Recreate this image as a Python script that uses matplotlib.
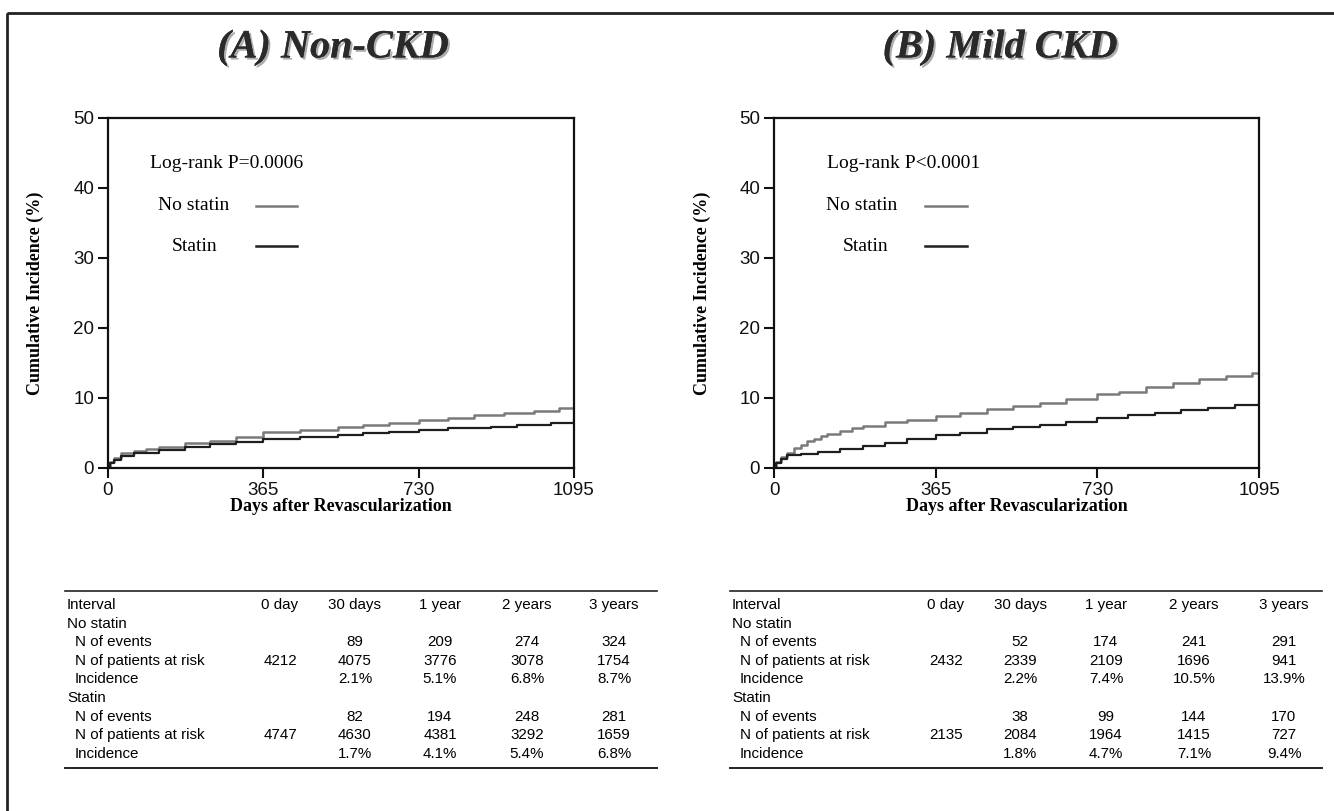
import matplotlib.pyplot as plt
import matplotlib.patheffects as pe
from matplotlib.lines import Line2D
from matplotlib.patches import Rectangle

plt.rcParams['font.family'] = ['Liberation Sans', 'DejaVu Sans']
SERIF = ['Liberation Serif', 'DejaVu Serif']

# ---- curves (days, cumulative incidence %) ----
a_no_days = [0, 5, 15, 30, 60, 90, 120, 180, 240, 300, 365, 450, 540, 600, 660, 730, 800, 860, 930, 1000, 1060, 1095]
a_no_vals = [0, 0.8, 1.4, 2.1, 2.4, 2.7, 3.0, 3.5, 3.9, 4.4, 5.1, 5.4, 5.8, 6.1, 6.4, 6.8, 7.2, 7.6, 7.9, 8.2, 8.5, 8.7]
a_st_days = [0, 5, 15, 30, 60, 120, 180, 240, 300, 365, 450, 540, 600, 660, 730, 800, 900, 960, 1040, 1095]
a_st_vals = [0, 0.7, 1.2, 1.7, 2.1, 2.6, 3.0, 3.4, 3.7, 4.1, 4.4, 4.7, 5.0, 5.2, 5.4, 5.7, 5.9, 6.2, 6.4, 6.8]

b_no_days = [0, 5, 15, 30, 45, 60, 75, 90, 105, 120, 150, 175, 200, 250, 300, 365, 420, 480, 540, 600, 660, 730, 780, 840, 900, 960, 1020, 1080, 1095]
b_no_vals = [0, 0.8, 1.5, 2.2, 2.8, 3.3, 3.8, 4.2, 4.5, 4.8, 5.3, 5.7, 6.0, 6.5, 6.9, 7.4, 7.9, 8.4, 8.8, 9.3, 9.8, 10.5, 10.9, 11.6, 12.2, 12.7, 13.1, 13.5, 13.9]
b_st_days = [0, 5, 15, 30, 60, 100, 150, 200, 250, 300, 365, 420, 480, 540, 600, 660, 730, 800, 860, 920, 980, 1040, 1095]
b_st_vals = [0, 0.7, 1.3, 1.8, 2.0, 2.3, 2.7, 3.2, 3.6, 4.1, 4.7, 5.0, 5.5, 5.8, 6.2, 6.6, 7.1, 7.5, 7.9, 8.3, 8.6, 9.0, 9.4]

# ---- tables ----
tab_header = ['Interval', '0 day', '30 days', '1 year', '2 years', '3 years']
a_no_events = ['', '89', '209', '274', '324']
a_no_risk = ['4212', '4075', '3776', '3078', '1754']
a_no_inc = ['', '2.1%', '5.1%', '6.8%', '8.7%']
a_st_events = ['', '82', '194', '248', '281']
a_st_risk = ['4747', '4630', '4381', '3292', '1659']
a_st_inc = ['', '1.7%', '4.1%', '5.4%', '6.8%']

b_no_events = ['', '52', '174', '241', '291']
b_no_risk = ['2432', '2339', '2109', '1696', '941']
b_no_inc = ['', '2.2%', '7.4%', '10.5%', '13.9%']
b_st_events = ['', '38', '99', '144', '170']
b_st_risk = ['2135', '2084', '1964', '1415', '727']
b_st_inc = ['', '1.8%', '4.7%', '7.1%', '9.4%']

W, H = 1334, 811
fig = plt.figure(figsize=(W / 100, H / 100), dpi=100)

# pixel-coordinate overlay for titles, tables and frame
pax = fig.add_axes([0, 0, 1, 1])
pax.set_xlim(0, W)
pax.set_ylim(H, 0)
pax.axis('off')
pax.add_patch(Rectangle((7, 13), W + 20, H + 20, fill=False, lw=2, color='#222222'))

NO_COL = '#7a7a7a'
ST_COL = '#1e1e1e'


def km_panel(left_px, right_px, ylab_px, no_d, no_v, st_d, st_v, ptext, leg_x):
    ax = fig.add_axes([left_px / W, 1 - 468 / H, (right_px - left_px) / W, 350 / H])
    ax.step(no_d, no_v, where='post', color=NO_COL, lw=1.8)
    ax.step(st_d, st_v, where='post', color=ST_COL, lw=1.6)
    ax.set_xlim(0, 1095)
    ax.set_ylim(0, 50)
    ax.set_xticks([0, 365, 730, 1095])
    ax.set_yticks([0, 10, 20, 30, 40, 50])
    ax.tick_params(direction='out', length=7, width=1.5, labelsize=13.5, pad=3, colors='#111111')
    for s in ax.spines.values():
        s.set_linewidth(1.6)
        s.set_color('#111111')
    ax.set_ylabel('Cumulative Incidence (%)', family=SERIF, fontweight='bold', fontsize=13)
    ax.set_xlabel('Days after Revascularization', family=SERIF, fontweight='bold', fontsize=13)
    wpx = right_px - left_px
    ax.yaxis.set_label_coords((ylab_px - left_px) / wpx, 0.5)
    ax.xaxis.set_label_coords(0.5, -0.085)

    # legend block
    fs = 14
    ax.text(leg_x[0], 0.871, ptext, transform=ax.transAxes, family=SERIF, fontsize=fs, va='center')
    ax.text(leg_x[1], 0.749, 'No statin', transform=ax.transAxes, family=SERIF, fontsize=fs, va='center')
    ax.text(leg_x[2], 0.634, 'Statin', transform=ax.transAxes, family=SERIF, fontsize=fs, va='center')
    ax.add_line(Line2D([leg_x[3], leg_x[4]], [0.749, 0.749], transform=ax.transAxes, color=NO_COL, lw=1.8))
    ax.add_line(Line2D([leg_x[3], leg_x[4]], [0.634, 0.634], transform=ax.transAxes, color=ST_COL, lw=1.8))
    return ax


km_panel(108, 574, 44, a_no_days, a_no_vals, a_st_days, a_st_vals, 'Log-rank P=0.0006',
         [0.09, 0.107, 0.137, 0.318, 0.406])
km_panel(774, 1259, 711, b_no_days, b_no_vals, b_st_days, b_st_vals, 'Log-rank P<0.0001',
         [0.109, 0.107, 0.142, 0.311, 0.398])

title_fx = [pe.withSimplePatchShadow(offset=(1.5, -1.5), shadow_rgbFace='#999999', alpha=0.8), pe.Normal()]
pax.text(333, 48, '(A) Non-CKD', family=SERIF, fontsize=29, fontweight='bold', style='italic',
         ha='center', va='center', color='#2a2a2a', path_effects=title_fx)
pax.text(1000, 48, '(B) Mild CKD', family=SERIF, fontsize=29, fontweight='bold', style='italic',
         ha='center', va='center', color='#2a2a2a', path_effects=title_fx)


def draw_table(x0, x1, col_x, no_ev, no_risk, no_inc, st_ev, st_risk, st_inc):
    y0 = 605
    dy = 18.6
    fs = 10.9
    pax.plot([x0, x1], [591, 591], color='#222222', lw=1.2)
    pax.plot([x0, x1], [768, 768], color='#222222', lw=1.4)
    pax.text(x0 + 2, y0, tab_header[0], fontsize=fs, va='center')
    for cx, h in zip(col_x, tab_header[1:]):
        pax.text(cx, y0, h, fontsize=fs, va='center', ha='center')
    groups = [('No statin', no_ev, no_risk, no_inc), ('Statin', st_ev, st_risk, st_inc)]
    row = 1
    for name, ev, risk, inc in groups:
        pax.text(x0 + 2, y0 + row * dy, name, fontsize=fs, va='center')
        row += 1
        for lab, vals in [('N of events', ev), ('N of patients at risk', risk), ('Incidence', inc)]:
            pax.text(x0 + 10, y0 + row * dy, lab, fontsize=fs, va='center')
            for cx, v in zip(col_x, vals):
                pax.text(cx, y0 + row * dy, v, fontsize=fs, va='center', ha='center')
            row += 1


draw_table(65, 657, [280, 355, 440, 527, 614],
           a_no_events, a_no_risk, a_no_inc, a_st_events, a_st_risk, a_st_inc)
draw_table(730, 1322, [946, 1020, 1106, 1194, 1284],
           b_no_events, b_no_risk, b_no_inc, b_st_events, b_st_risk, b_st_inc)

fig.savefig('out.png', dpi=100)
